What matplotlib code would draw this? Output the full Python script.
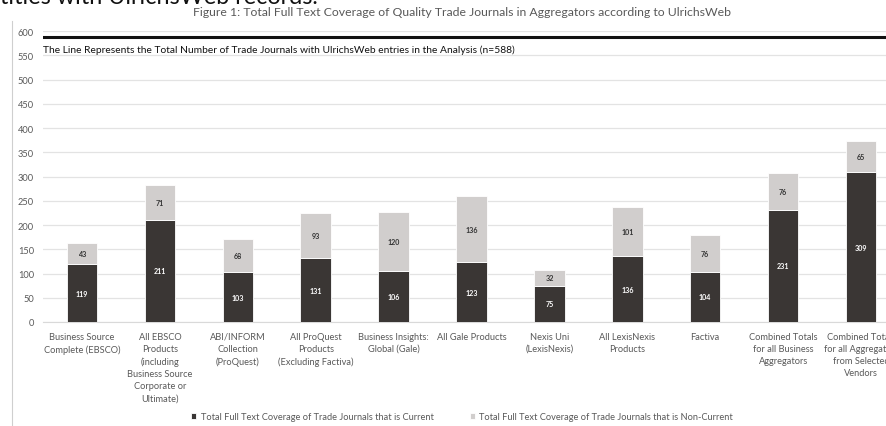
import matplotlib
matplotlib.use("Agg")
import matplotlib.pyplot as plt
import numpy as np

categories = [
    "Business Source\nComplete (EBSCO)",
    "All EBSCO\nProducts\n(including\nBusiness Source\nCorporate or\nUltimate)",
    "ABI/INFORM\nCollection\n(ProQuest)",
    "All ProQuest\nProducts\n(Excluding Factiva)",
    "Business Insights:\nGlobal (Gale)",
    "All Gale Products",
    "Nexis Uni\n(LexisNexis)",
    "All LexisNexis\nProducts",
    "Factiva",
    "Combined Totals\nfor all Business\nAggregators",
    "Combined Totals\nfor all Aggregators\nfrom Selected\nVendors",
]
current = [119, 211, 103, 131, 106, 123, 75, 136, 104, 231, 309]
non_current = [43, 71, 68, 93, 120, 136, 32, 101, 76, 76, 65]
total_line = 588
yticks = list(range(0, 601, 50))

FONT = ['Lato', 'Liberation Sans', 'DejaVu Sans']
plt.rcParams['font.family'] = FONT

W, H = 887, 427
fig = plt.figure(figsize=(W / 100, H / 100), dpi=100)
ax = fig.add_axes([43 / W, (H - 323) / H, (900 - 43) / W, 291 / H])
renderer = fig.canvas.get_renderer()


def measure(txt, size, weight='normal'):
    t = fig.text(0, 0, txt, fontsize=size, fontweight=weight)
    w = t.get_window_extent(renderer).width
    t.remove()
    return w


def fit_size(txt, target_px, base=10, weight='normal'):
    return base * target_px / measure(txt, base, weight)


dark = '#3a3634'
light = '#d1cecd'
x = np.arange(len(categories))
bw = 0.39
ax.bar(x, current, bw, color=dark, edgecolor='white', linewidth=0.6, zorder=3,
       label='Total Full Text Coverage of Trade Journals that is Current')
ax.bar(x, non_current, bw, bottom=current, color=light, edgecolor='white', linewidth=0.6,
       zorder=3, label='Total Full Text Coverage of Trade Journals that is Non-Current')

lab_size = fit_size("211", 12.5, weight='bold')
for i in range(len(x)):
    ax.text(x[i], current[i] / 2, str(current[i]), ha='center', va='center',
            color='white', fontsize=lab_size, fontweight='bold', zorder=4)
    ax.text(x[i], current[i] + non_current[i] / 2, str(non_current[i]), ha='center',
            va='center', color='#333333', fontsize=lab_size, fontweight='bold', zorder=4)

ax.axhline(total_line, color='#111111', linewidth=2.2, zorder=4)
ann = "The Line Represents the Total Number of Trade Journals with UlrichsWeb entries in the Analysis (n=588)"
ax.text(-0.5, 563, ann, ha='left', va='center',
        fontsize=fit_size(ann, 475), color='#111111', zorder=5)

tick_size = fit_size("600", 16)
cat_size = fit_size("Complete (EBSCO)", 77)

ax.set_xlim(-0.5, len(categories) - 0.5)
ax.set_ylim(0, 600)
ax.set_yticks(yticks)
ax.yaxis.grid(True, color='#e3e3e3', linewidth=0.9, zorder=0)
for s in ax.spines.values():
    s.set_visible(False)
ax.spines['bottom'].set_visible(True)
ax.spines['bottom'].set_color('#d9d9d9')
ax.tick_params(axis='y', length=0, labelsize=tick_size, colors='#595959', pad=6.5)
ax.set_xticks(x)
ax.set_xticklabels(categories, fontsize=cat_size, color='#595959', linespacing=1.45)
ax.tick_params(axis='x', length=0, pad=7, colors='#595959')

title = "Figure 1: Total Full Text Coverage of Quality Trade Journals in Aggregators according to UlrichsWeb"
fig.text(462 / W, 1 - 13 / H, title, ha='center', va='center',
         fontsize=fit_size(title, 540), color='#595959')
top = "tities with UlrichsWeb records."
fig.text(0.0, 1 - 4 / H, top, ha='left', va='baseline',
         fontsize=fit_size(top, 318), color='#111111')

fig.add_artist(plt.Line2D([12 / W, 12 / W], [0, 1 - 22 / H], color='#cfcfcf', linewidth=0.8))

leg_label = 'Total Full Text Coverage of Trade Journals that is Current'
leg_size = fit_size(leg_label, 234)
leg_px = leg_size * 100 / 72
leg = fig.legend(loc='center', bbox_to_anchor=(462 / W, 1 - 418 / H), ncol=2, frameon=False,
                 fontsize=leg_size, handlelength=0.55, handleheight=0.55,
                 columnspacing=36 / leg_px, handletextpad=0.5, labelcolor='#595959')

fig.savefig('out.png', dpi=100)
